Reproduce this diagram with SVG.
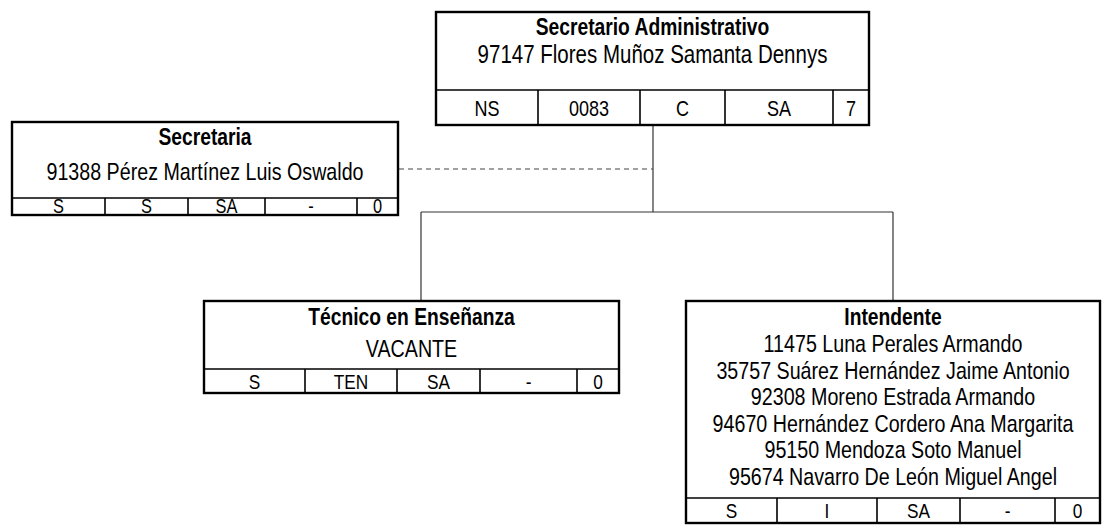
<svg xmlns="http://www.w3.org/2000/svg" width="1105" height="529" viewBox="0 0 1105 529">
<style>
  text { font-family: "Liberation Sans", Arial, sans-serif; fill: #000; text-anchor: middle; }
  .t { font-weight: bold; font-size: 23.5px; }
  .n { font-size: 24px; }
  .c { font-size: 21px; }
  .cs { font-size: 20px; }
  .box { fill: #fff; stroke: #000; stroke-width: 2.4; }
  .div { stroke: #000; stroke-width: 1.6; fill: none; }
  .con { stroke: #333; stroke-width: 1.2; fill: none; }
  .dash { stroke: #444; stroke-width: 1.2; stroke-dasharray: 5 4; fill: none; }
</style>
<rect width="1105" height="529" fill="#fff"/>
<g id="connectors">
  <line class="con" x1="653" y1="125" x2="653" y2="212"/>
  <line class="con" x1="421" y1="212" x2="893" y2="212"/>
  <line class="con" x1="421" y1="212" x2="421" y2="301"/>
  <line class="con" x1="893" y1="212" x2="893" y2="301"/>
  <line class="dash" x1="399" y1="169" x2="653" y2="169"/>
</g>
<g id="n-secretario-administrativo">
  <rect class="box" x="436" y="12" width="433" height="113"/>
  <line class="div" x1="436" y1="90" x2="869" y2="90"/>
  <line class="div" x1="538" y1="90" x2="538" y2="125"/>
  <line class="div" x1="640" y1="90" x2="640" y2="125"/>
  <line class="div" x1="725" y1="90" x2="725" y2="125"/>
  <line class="div" x1="833" y1="90" x2="833" y2="125"/>
  <text class="t" transform="translate(652.5 35) scale(0.82 1)">Secretario Administrativo</text>
  <text class="n" style="font-size:25px" transform="translate(652.5 63) scale(0.82 1)">97147 Flores Muñoz Samanta Dennys</text>
  <text class="c" style="font-size:22px" transform="translate(487 116) scale(0.82 1)">NS</text>
  <text class="c" style="font-size:22px" transform="translate(589 116) scale(0.82 1)">0083</text>
  <text class="c" style="font-size:22px" transform="translate(682.5 116) scale(0.82 1)">C</text>
  <text class="c" style="font-size:22px" transform="translate(779 116) scale(0.82 1)">SA</text>
  <text class="c" style="font-size:22px" transform="translate(851 116) scale(0.82 1)">7</text>
</g>
<g id="n-secretaria">
  <rect class="box" x="12" y="122" width="386" height="93"/>
  <line class="div" x1="12" y1="198" x2="398" y2="198"/>
  <line class="div" x1="105" y1="198" x2="105" y2="215"/>
  <line class="div" x1="188" y1="198" x2="188" y2="215"/>
  <line class="div" x1="265" y1="198" x2="265" y2="215"/>
  <line class="div" x1="357" y1="198" x2="357" y2="215"/>
  <text class="t" transform="translate(205 145) scale(0.82 1)">Secretaria</text>
  <text class="n" transform="translate(205 180) scale(0.82 1)">91388 Pérez Martínez Luis Oswaldo</text>
  <text class="cs" transform="translate(58.5 213) scale(0.82 1)">S</text>
  <text class="cs" transform="translate(146.5 213) scale(0.82 1)">S</text>
  <text class="cs" transform="translate(226.5 213) scale(0.82 1)">SA</text>
  <text class="cs" transform="translate(311 213) scale(0.82 1)">-</text>
  <text class="cs" transform="translate(377.5 213) scale(0.82 1)">0</text>
</g>
<g id="n-tecnico">
  <rect class="box" x="204" y="301" width="415" height="92"/>
  <line class="div" x1="204" y1="369" x2="619" y2="369"/>
  <line class="div" x1="305" y1="369" x2="305" y2="393"/>
  <line class="div" x1="397" y1="369" x2="397" y2="393"/>
  <line class="div" x1="480" y1="369" x2="480" y2="393"/>
  <line class="div" x1="577" y1="369" x2="577" y2="393"/>
  <text class="t" transform="translate(411.5 325) scale(0.82 1)">Técnico en Enseñanza</text>
  <text class="n" transform="translate(411.5 357) scale(0.82 1)">VACANTE</text>
  <text class="c" transform="translate(254.5 389) scale(0.82 1)">S</text>
  <text class="c" transform="translate(351 389) scale(0.82 1)">TEN</text>
  <text class="c" transform="translate(438.5 389) scale(0.82 1)">SA</text>
  <text class="c" transform="translate(528.5 389) scale(0.82 1)">-</text>
  <text class="c" transform="translate(598 389) scale(0.82 1)">0</text>
</g>
<g id="n-intendente">
  <rect class="box" x="686" y="301" width="414" height="222"/>
  <line class="div" x1="686" y1="498" x2="1100" y2="498"/>
  <line class="div" x1="777" y1="498" x2="777" y2="523"/>
  <line class="div" x1="877" y1="498" x2="877" y2="523"/>
  <line class="div" x1="960" y1="498" x2="960" y2="523"/>
  <line class="div" x1="1055" y1="498" x2="1055" y2="523"/>
  <text class="t" transform="translate(893 325) scale(0.82 1)">Intendente</text>
  <text class="n" transform="translate(893 352) scale(0.82 1)">11475 Luna Perales Armando</text>
  <text class="n" transform="translate(893 378.5) scale(0.82 1)">35757 Suárez Hernández Jaime Antonio</text>
  <text class="n" transform="translate(893 405) scale(0.82 1)">92308 Moreno Estrada Armando</text>
  <text class="n" transform="translate(893 431.5) scale(0.82 1)">94670 Hernández Cordero Ana Margarita</text>
  <text class="n" transform="translate(893 458) scale(0.82 1)">95150 Mendoza Soto Manuel</text>
  <text class="n" transform="translate(893 484.5) scale(0.82 1)">95674 Navarro De León Miguel Angel</text>
  <text class="c" transform="translate(731.5 518) scale(0.82 1)">S</text>
  <text class="c" transform="translate(827 518) scale(0.82 1)">I</text>
  <text class="c" transform="translate(918.5 518) scale(0.82 1)">SA</text>
  <text class="c" transform="translate(1007.5 518) scale(0.82 1)">-</text>
  <text class="c" transform="translate(1077.5 518) scale(0.82 1)">0</text>
</g>
</svg>
